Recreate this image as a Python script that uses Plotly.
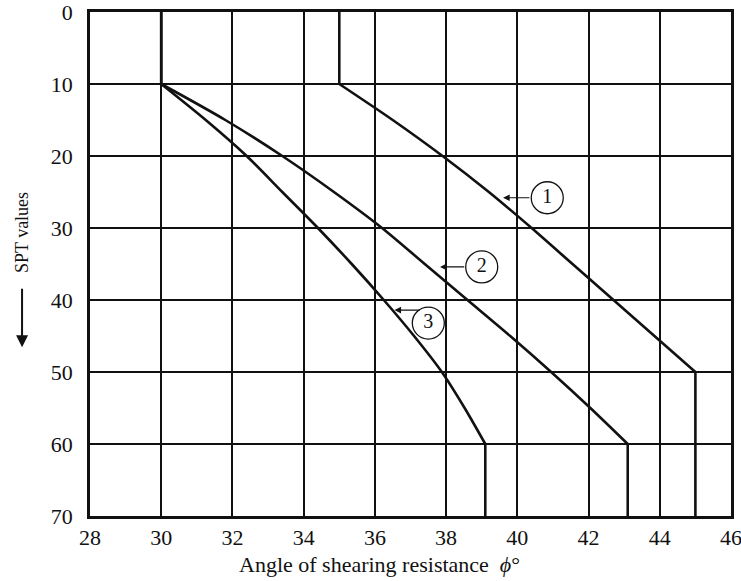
import plotly.graph_objects as go

# SPT value vs angle of shearing resistance, three curves
spt = [0, 10, 15, 20, 25, 30, 35, 40, 45, 50, 55, 60, 70]

curve1_y = [0, 10, 15, 20, 25, 30, 35, 40, 45, 50, 70]
curve1_x = [35, 35, 36.5, 37.9, 39.2, 40.4, 41.55, 42.7, 43.85, 45, 45]

curve2_y = spt
curve2_x = [30, 30, 31.8, 33.4, 34.85, 36.2, 37.4, 38.6, 39.8, 40.95, 42.05, 43.1, 43.1]

curve3_y = spt
curve3_x = [30, 30, 31.25, 32.4, 33.4, 34.4, 35.35, 36.25, 37.1, 37.88, 38.52, 39.1, 39.1]

# curve labels (circled numbers) and where their arrows point
label_text = ['1', '2', '3']
label_x = [40.84, 39.0, 37.5]
label_y = [25.8, 35.4, 43.2]
arrow_tip_x = [39.6, 37.83, 36.55]
arrow_tip_y = [25.8, 35.4, 41.4]
arrow_tail_x = [40.38, 38.55, 37.3]
arrow_tail_y = [25.8, 35.4, 41.4]

x_ticks = list(range(28, 47, 2))
y_ticks = list(range(0, 71, 10))

font = 'Liberation Serif'
ink = '#111111'

fig = go.Figure()
for xs, ys in [(curve1_x, curve1_y), (curve2_x, curve2_y), (curve3_x, curve3_y)]:
    # straight vertical runs at both ends, smooth curve in between
    pieces = [(xs[:2], ys[:2], 'linear'), (xs[1:-1], ys[1:-1], 'spline'),
              (xs[-2:], ys[-2:], 'linear')]
    for px, py, shape in pieces:
        fig.add_trace(go.Scatter(
            x=px, y=py, mode='lines',
            line=dict(color=ink, width=2.6, shape=shape, smoothing=0.8),
            showlegend=False, hoverinfo='skip'
        ))

fig.add_trace(go.Scatter(
    x=label_x, y=label_y, mode='markers+text',
    text=label_text, textposition='middle center',
    textfont=dict(family=font, size=20, color=ink),
    marker=dict(symbol='circle', size=32, color='white',
                line=dict(color=ink, width=1.3)),
    showlegend=False, hoverinfo='skip'
))

annotations = []
for tx, ty, ax, ay in zip(arrow_tip_x, arrow_tip_y, arrow_tail_x, arrow_tail_y):
    annotations.append(dict(
        x=tx, y=ty, ax=ax, ay=ay, xref='x', yref='y', axref='x', ayref='y',
        text='', showarrow=True, arrowhead=2, arrowsize=1.1, arrowwidth=1.2,
        arrowcolor=ink
    ))

# axis titles as free text, placed like the original figure
annotations.append(dict(
    x=0.452, y=-0.097, xref='paper', yref='paper',
    text='Angle of shearing resistance  <i>ϕ</i>°',
    xanchor='center', yanchor='middle', showarrow=False,
    font=dict(family=font, size=22, color=ink)
))
annotations.append(dict(
    x=-0.106, y=0.5615, xref='paper', yref='paper', text='SPT values',
    xanchor='center', yanchor='middle',
    textangle=-90, showarrow=False, font=dict(family=font, size=18, color=ink)
))
annotations.append(dict(
    x=-0.106, y=0.335, xref='paper', yref='paper', text='', showarrow=True,
    ax=0, ay=-60, arrowhead=2, arrowsize=1.2, arrowwidth=2, arrowcolor=ink
))

fig.update_layout(
    width=741, height=581,
    plot_bgcolor='white', paper_bgcolor='white',
    margin=dict(l=90, r=10, t=12, b=65),
    font=dict(family=font, size=22, color=ink),
    annotations=annotations,
    xaxis=dict(
        range=[28, 46], tickvals=x_ticks, showgrid=True, gridcolor=ink,
        gridwidth=1.8, zeroline=False, showline=True, linecolor=ink,
        linewidth=2.5, mirror=True, ticks='', ticklabelstandoff=0,
        automargin=False, ticklabeloverflow='allow',
        tickfont=dict(family=font, size=22, color=ink)
    ),
    yaxis=dict(
        range=[70, 0], tickvals=y_ticks, showgrid=True, gridcolor=ink,
        gridwidth=1.8, zeroline=False, showline=True, linecolor=ink,
        linewidth=2.5, mirror=True, ticks='', ticklabelstandoff=10,
        automargin=False, ticklabeloverflow='allow',
        tickfont=dict(family=font, size=22, color=ink)
    )
)

fig.write_html("out.html", config={'displayModeBar': False},
               post_script="document.body.style.margin='0';")
